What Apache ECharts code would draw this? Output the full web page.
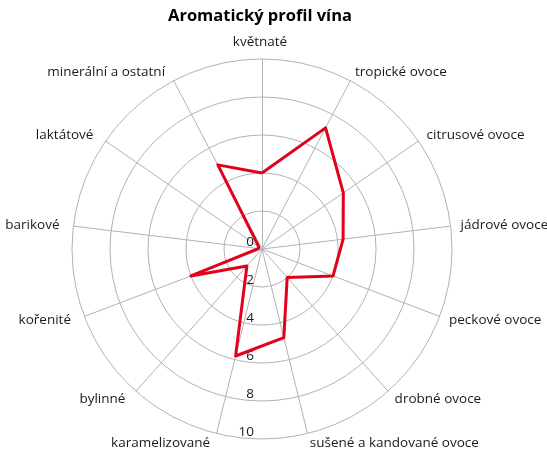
<!DOCTYPE html>
<html>
<head>
<meta charset="utf-8">
<script src="https://cdn.jsdelivr.net/npm/echarts@6/dist/echarts.min.js"></script>
<style>
html,body{margin:0;padding:0;background:#fff;}
#c{width:547px;height:454px;}
</style>
</head>
<body>
<div id="c"></div>
<script>
// Categories in clockwise order starting from the top
const categories = ['květnaté', 'tropické ovoce', 'citrusové ovoce', 'jádrové ovoce', 'peckové ovoce', 'drobné ovoce', 'sušené a kandované ovoce', 'karamelizované', 'bylinné', 'kořenité', 'barikové', 'laktátové', 'minerální a ostatní'];
const values = [4.0, 7.2, 5.2, 4.3, 4.0, 2.0, 4.8, 5.8, 1.2, 4.0, 0.2, 0.2, 5.0];
const scaleMin = 0;
const scaleMax = 10;
const scaleStep = 2;
const titleText = 'Aromatický profil vína';

// ECharts radar runs counter-clockwise; reorder so the chart reads clockwise
const order = [0].concat(categories.map((_, i) => i).slice(1).reverse());
const indicators = order.map(i => ({ name: categories[i], min: scaleMin, max: scaleMax }));
const radarValues = order.map(i => values[i]);

const FONT = 'Open Sans';
const GRID = '#b3b3b3';
const chart = echarts.init(document.getElementById('c'), null, { renderer: 'canvas' });
chart.setOption({
  animation: false,
  backgroundColor: '#ffffff',
  title: {
    text: titleText,
    left: 163,
    top: 3,
    textStyle: { fontFamily: FONT, fontSize: 16.5, fontWeight: 'bold', color: '#000' }
  },
  radar: {
    center: [262, 249],
    radius: 190,
    startAngle: 90,
    shape: 'circle',
    splitNumber: 5,
    nameGap: 10,
    indicator: indicators,
    axisName: { color: '#1a1a1a', fontFamily: FONT, fontSize: 13.5, padding: [0, 4, 0, 0] },
    splitLine: { lineStyle: { color: GRID, width: 1 } },
    splitArea: { show: false },
    axisLine: { lineStyle: { color: GRID, width: 1 } },
    axisTick: { show: false },
    axisLabel: { show: false }
  },
  polar: { center: [262, 249], radius: 190 },
  angleAxis: { type: 'value', startAngle: 270, show: false, min: 0, max: 360 },
  radiusAxis: {
    type: 'value', min: scaleMin, max: scaleMax, interval: scaleStep,
    axisLine: { show: false }, axisTick: { show: false }, splitLine: { show: false },
    axisLabel: { show: true, color: '#1a1a1a', fontFamily: FONT, fontSize: 13.5, margin: -8, align: 'right', verticalAlign: 'bottom' }
  },
  series: [{
    type: 'radar',
    symbol: 'none',
    lineStyle: { color: '#e2001a', width: 3 },
    data: [{ value: radarValues, name: titleText }]
  }]
});
</script>
</body>
</html>
